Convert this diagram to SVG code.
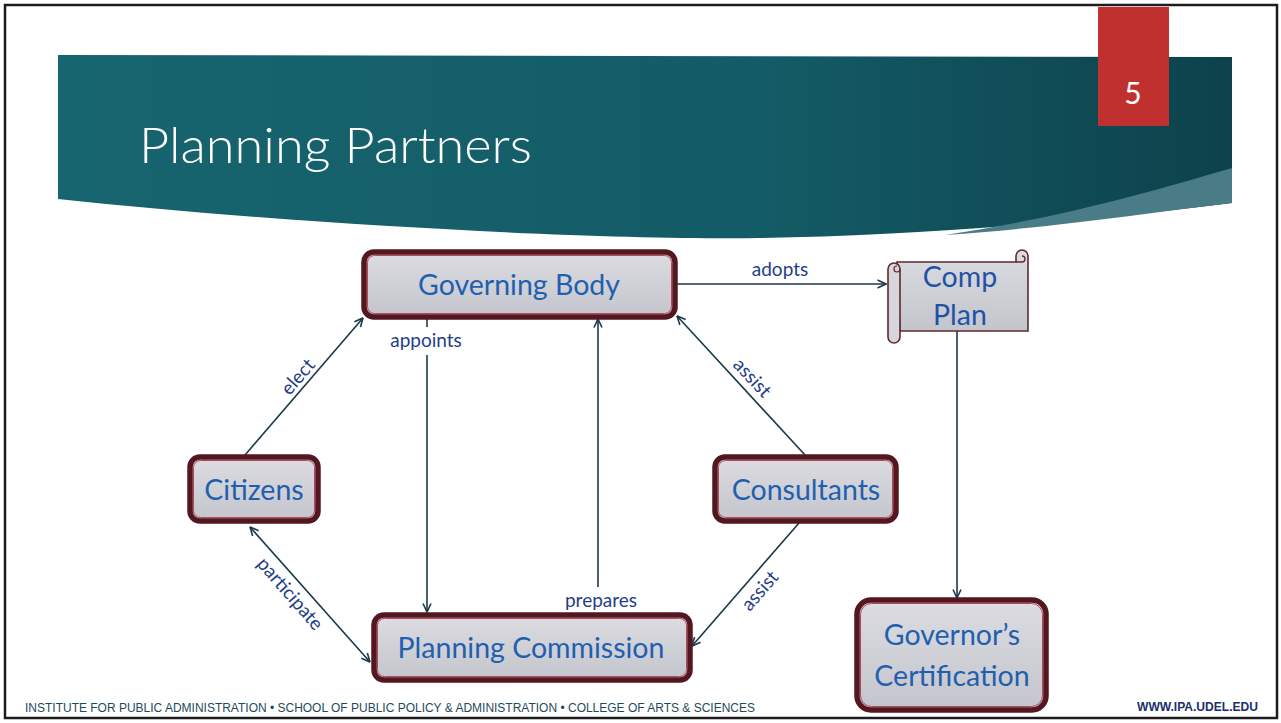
<svg xmlns="http://www.w3.org/2000/svg" width="1281" height="723" viewBox="0 0 1281 723">
<style>
.box{fill:url(#boxFill);stroke:#541720;stroke-width:5.5}
.inner{fill:none;stroke:#b04a58;stroke-width:1}
.nt{font-family:Lato,"Open Sans",sans-serif;font-size:28.5px;fill:#1f5fb0;text-anchor:middle}
.el{font-family:Lato,"Open Sans",sans-serif;font-size:19px;fill:#1f3d8a;text-anchor:middle}
.er{font-family:Lato,"Open Sans",sans-serif;font-size:19px;fill:#1f3d8a;text-anchor:middle;dominant-baseline:central}
.cn{fill:none;stroke:#1b3a4a;stroke-width:1.6}
.foot{font-family:"Liberation Sans",Arial,sans-serif;font-size:12px}
</style>
<defs>
<linearGradient id="boxFill" x1="0" y1="0" x2="0" y2="1">
<stop offset="0" stop-color="#dcdce2"/>
<stop offset="1" stop-color="#c4c4cc"/>
</linearGradient>
<linearGradient id="banner" x1="0" y1="0" x2="1" y2="0">
<stop offset="0" stop-color="#17656f"/>
<stop offset="0.6" stop-color="#135b66"/>
<stop offset="1" stop-color="#0d424c"/>
</linearGradient>
<marker id="arr" viewBox="0 0 10 10" refX="9.5" refY="5" markerWidth="10" markerHeight="10" markerUnits="userSpaceOnUse" orient="auto-start-reverse">
<path d="M1,1 L9.5,5 L1,9" fill="none" stroke="#1b3a4a" stroke-width="1.6"/>
</marker>
</defs>

<rect x="0" y="0" width="1281" height="723" fill="#ffffff"/>
<rect id="frame" x="5" y="5" width="1272" height="713" fill="#ffffff" stroke="#1c1c1c" stroke-width="2.5"/>

<g id="banner-g">
<path d="M58,55 L1232,57 L1232,203 C1050,225 900,236 760,238 C600,240 300,225 58,199 Z" fill="url(#banner)"/>
<path d="M1232,168 C1150,192 1060,218 945,235 C1050,228 1140,214 1232,203 Z" fill="#4a7c88"/>
<text x="139" y="163" font-family="Lato,'Open Sans',sans-serif" font-weight="300" font-size="50" fill="#ffffff" textLength="393" lengthAdjust="spacingAndGlyphs">Planning Partners</text>
</g>

<g id="page-number">
<rect x="1098" y="7" width="71" height="119" fill="#c0302f"/>
<text x="1133" y="104" font-family="Lato,'Open Sans',sans-serif" font-size="30" fill="#ffffff" text-anchor="middle">5</text>
</g>

<g id="connectors">
<line class="cn" x1="676" y1="284" x2="886" y2="284" marker-end="url(#arr)"/>
<text class="el" x="780" y="276">adopts</text>
<line class="cn" x1="957" y1="331" x2="957" y2="598" marker-end="url(#arr)"/>
<line class="cn" x1="245" y1="455" x2="363" y2="318" marker-end="url(#arr)"/>
<text class="er" transform="translate(297 376) rotate(-49)">elect</text>
<line class="cn" x1="427" y1="319" x2="427" y2="327"/>
<line class="cn" x1="427" y1="355" x2="427" y2="612" marker-end="url(#arr)"/>
<text class="el" x="426" y="347">appoints</text>
<line class="cn" x1="598" y1="587" x2="598" y2="319" marker-end="url(#arr)"/>
<text class="el" x="601" y="607">prepares</text>
<line class="cn" x1="805" y1="455" x2="677" y2="316" marker-end="url(#arr)"/>
<text class="er" transform="translate(753 377) rotate(47)">assist</text>
<line class="cn" x1="799" y1="523" x2="692" y2="646" marker-end="url(#arr)"/>
<text class="er" transform="translate(759 590) rotate(-49)">assist</text>
<line class="cn" x1="250" y1="527" x2="370" y2="662" marker-start="url(#arr)" marker-end="url(#arr)"/>
<text class="er" transform="translate(291 593) rotate(49)">participate</text>
</g>

<g id="governing-body">
<rect class="box" x="364" y="252" width="311" height="65" rx="10"/>
<rect class="inner" x="367.5" y="255.5" width="304" height="58" rx="7"/>
<text class="nt" x="519" y="295">Governing Body</text>
</g>

<g id="comp-plan">
<path d="M897,262 H1016 V256 A6,6 0 0 1 1028,256 V331 H900 Z" fill="url(#boxFill)" stroke="#5e2a30" stroke-width="1.6"/>
<path d="M1016,262 H1022 A3,3 0 0 0 1022,256" fill="none" stroke="#5e2a30" stroke-width="1.3"/>
<path d="M888,269 A6,6 0 0 1 900,269 V337 A6,6 0 0 1 888,337 Z" fill="#d6d6dc" stroke="#5e2a30" stroke-width="1.6"/>
<path d="M900,269 A3,3 0 0 1 894,269 A3,3 0 0 1 897,266" fill="none" stroke="#5e2a30" stroke-width="1.2"/>
<text class="nt" x="960" y="287" fill="#1f52a6" style="fill:#1f52a6">Comp</text>
<text class="nt" x="960" y="325" style="fill:#1f52a6">Plan</text>
</g>

<g id="citizens">
<rect class="box" x="190" y="457" width="128" height="64" rx="10"/>
<rect class="inner" x="193.5" y="460.5" width="121" height="57" rx="7"/>
<text class="nt" x="254" y="500">Citizens</text>
</g>

<g id="consultants">
<rect class="box" x="715" y="457" width="181" height="64" rx="10"/>
<rect class="inner" x="718.5" y="460.5" width="174" height="57" rx="7"/>
<text class="nt" x="806" y="500">Consultants</text>
</g>

<g id="planning-commission">
<rect class="box" x="374" y="615" width="316" height="65" rx="10"/>
<rect class="inner" x="377.5" y="618.5" width="309" height="58" rx="7"/>
<text class="nt" x="531" y="658">Planning Commission</text>
</g>

<g id="governors-certification">
<rect class="box" x="857" y="600" width="189" height="110" rx="14"/>
<rect class="inner" x="860.5" y="603.5" width="182" height="103" rx="11"/>
<text class="nt" x="952" y="645">Governor’s</text>
<text class="nt" x="952" y="686">Certification</text>
</g>

<g id="footer">
<text class="foot" x="25" y="712" fill="#1d4a5c" textLength="730" lengthAdjust="spacingAndGlyphs">INSTITUTE FOR PUBLIC ADMINISTRATION • SCHOOL OF PUBLIC POLICY &amp; ADMINISTRATION • COLLEGE OF ARTS &amp; SCIENCES</text>
<text class="foot" x="1137" y="711" fill="#1a2f6b" font-weight="bold" textLength="121" lengthAdjust="spacingAndGlyphs">WWW.IPA.UDEL.EDU</text>
</g>
</svg>
